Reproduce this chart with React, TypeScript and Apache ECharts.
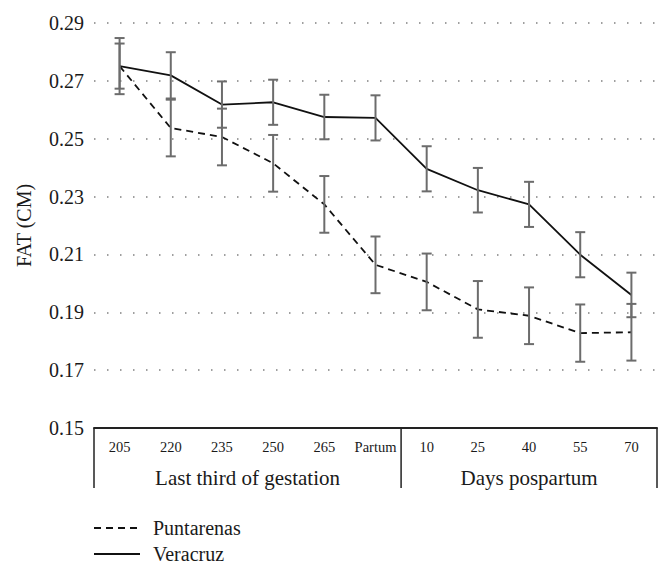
import React, { useEffect, useRef } from 'react';
import * as echarts from 'echarts';

const categories = ['205', '220', '235', '250', '265', 'Partum', '10', '25', '40', '55', '70'];
const groupLabels = ['Last third of gestation', 'Days pospartum'];
const groupSizes = [6, 5];

const puntarenas = [0.2751, 0.2537, 0.2506, 0.2415, 0.2273, 0.2064, 0.2005, 0.1910, 0.1888, 0.1828, 0.1831];
const puntarenasErr = [0.0097, 0.0098, 0.0098, 0.0098, 0.0098, 0.0098, 0.0098, 0.0098, 0.0098, 0.0099, 0.0098];
const veracruz = [0.2751, 0.2719, 0.2618, 0.2626, 0.2575, 0.2572, 0.2396, 0.2322, 0.2273, 0.2099, 0.1960];
const veracruzErr = [0.0078, 0.0080, 0.0080, 0.0078, 0.0077, 0.0078, 0.0078, 0.0077, 0.0078, 0.0078, 0.0077];

const yMin = 0.15;
const yMax = 0.29;
const yStep = 0.02;

const W = 671;
const H = 572;
const GRID_LEFT = 94;
const GRID_RIGHT = 14;
const GRID_TOP = 23;
const GRID_BOTTOM = 144;
const FONT = "'Liberation Serif', serif";
const TEXT = '#1a1a1a';

function errorBarSeries(name: string, values: number[], errs: number[]) {
  return {
    type: 'custom',
    name: name + ' SE',
    silent: true,
    z: 4,
    data: values.map((v, i) => [i, v - errs[i], v + errs[i]]),
    encode: { x: 0, y: [1, 2] },
    renderItem: (_params: any, api: any) => {
      const lo = api.coord([api.value(0), api.value(1)]);
      const hi = api.coord([api.value(0), api.value(2)]);
      const cx = lo[0];
      const half = 5;
      const style = { stroke: '#6c6c6c', lineWidth: 2 };
      return {
        type: 'group',
        children: [
          { type: 'line', shape: { x1: cx, y1: lo[1], x2: cx, y2: hi[1] }, style },
          { type: 'line', shape: { x1: cx - half, y1: lo[1], x2: cx + half, y2: lo[1] }, style },
          { type: 'line', shape: { x1: cx - half, y1: hi[1], x2: cx + half, y2: hi[1] }, style },
        ],
      };
    },
  };
}

export default function App() {
  const ref = useRef<HTMLDivElement>(null);

  useEffect(() => {
    if (!ref.current) return;
    const chart = echarts.init(ref.current, undefined, { renderer: 'svg' });

    const plotW = W - GRID_LEFT - GRID_RIGHT;
    const cw = plotW / categories.length;
    const axisY = H - GRID_BOTTOM;
    const boxBottom = axisY + 60;
    const boundaries: number[] = [GRID_LEFT];
    let acc = 0;
    groupSizes.forEach((s) => {
      acc += s;
      boundaries.push(GRID_LEFT + acc * cw);
    });

    const graphic: any[] = [];
    boundaries.forEach((bx) => {
      graphic.push({
        type: 'line',
        shape: { x1: bx, y1: axisY, x2: bx, y2: boxBottom },
        style: { stroke: '#222', lineWidth: 1.5 },
        z: 10,
      });
    });
    groupLabels.forEach((label, i) => {
      const cx = (boundaries[i] + boundaries[i + 1]) / 2;
      graphic.push({
        type: 'text',
        x: cx,
        y: axisY + 50,
        style: {
          text: label,
          font: "21px 'Liberation Serif', serif",
          fontFamily: FONT,
          fontSize: 21,
          fill: TEXT,
          align: 'center',
          verticalAlign: 'middle',
        },
        z: 10,
      });
    });

    chart.setOption({
      animation: false,
      backgroundColor: '#ffffff',
      textStyle: { fontFamily: FONT },
      grid: { left: GRID_LEFT, right: GRID_RIGHT, top: GRID_TOP, bottom: GRID_BOTTOM, containLabel: false },
      legend: {
        data: ['Puntarenas', 'Veracruz'],
        orient: 'vertical',
        left: 88,
        top: 513,
        itemWidth: 46,
        itemHeight: 14,
        itemGap: 6,
        itemStyle: { opacity: 0 },
        textStyle: { fontFamily: FONT, fontSize: 20, color: TEXT, padding: [0, 0, 0, 8] },
        selectedMode: false,
      },
      xAxis: {
        type: 'category',
        data: categories,
        boundaryGap: true,
        axisLine: { show: true, lineStyle: { color: '#222', width: 2 } },
        axisTick: { show: false },
        axisLabel: { fontFamily: FONT, fontSize: 14.5, color: TEXT, margin: 11, interval: 0 },
        splitLine: { show: false },
      },
      yAxis: {
        type: 'value',
        min: yMin,
        max: yMax,
        interval: yStep,
        name: 'FAT (CM)',
        nameLocation: 'middle',
        nameGap: 60,
        nameTextStyle: { fontFamily: FONT, fontSize: 20, color: TEXT },
        axisLine: { show: false },
        axisTick: { show: false },
        axisLabel: {
          fontFamily: FONT,
          fontSize: 20,
          color: TEXT,
          margin: 10,
          formatter: (v: number) => v.toFixed(2),
        },
        splitLine: { show: true, lineStyle: { color: '#808080', width: 1.5, type: [1.5, 11.5] } },
      },
      series: [
        {
          type: 'line',
          name: 'Puntarenas',
          data: puntarenas,
          symbol: 'none',
          z: 3,
          lineStyle: { color: '#111', width: 1.8, type: [7, 5] },
          itemStyle: { color: '#111' },
        },
        {
          type: 'line',
          name: 'Veracruz',
          data: veracruz,
          symbol: 'none',
          z: 3,
          lineStyle: { color: '#111', width: 1.8, type: 'solid' },
          itemStyle: { color: '#111' },
        },
        errorBarSeries('Puntarenas', puntarenas, puntarenasErr),
        errorBarSeries('Veracruz', veracruz, veracruzErr),
      ],
      graphic,
    });

    return () => chart.dispose();
  }, []);

  return (
    <div
      ref={ref}
      style={{ position: 'fixed', left: 0, top: 0, width: W, height: H, background: '#fff' }}
    />
  );
}
